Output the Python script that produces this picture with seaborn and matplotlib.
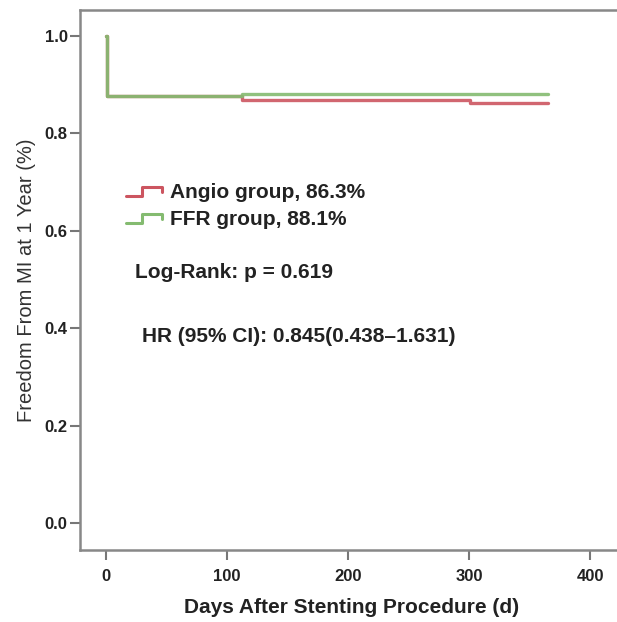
import matplotlib
matplotlib.use("Agg")
import matplotlib.pyplot as plt
import seaborn as sns
import pandas as pd
from matplotlib.legend_handler import HandlerBase
from matplotlib.lines import Line2D

# Data
angio_days = [0, 1, 112, 301, 365]
angio_surv = [1.0, 0.876, 0.869, 0.863, 0.863]
ffr_days = [0, 1, 112, 365]
ffr_surv = [1.0, 0.877, 0.881, 0.881]
group_labels = ["Angio group, 86.3%", "FFR group, 88.1%"]
x_ticks = [0, 100, 200, 300, 400]
y_ticks = [0.0, 0.2, 0.4, 0.6, 0.8, 1.0]
logrank_text = "Log-Rank: p = 0.619"
hr_text = "HR (95% CI): 0.845(0.438\u20131.631)"

red = "#cc5560"
green = "#84bb70"

sns.set_theme(style="white")
plt.rcParams["font.family"] = ["Liberation Sans", "DejaVu Sans"]

df = pd.concat([
    pd.DataFrame({"day": angio_days, "surv": angio_surv, "group": group_labels[0]}),
    pd.DataFrame({"day": ffr_days, "surv": ffr_surv, "group": group_labels[1]}),
])

fig = plt.figure(figsize=(6.17, 6.22), dpi=100)
ax = fig.add_axes([0.1297, 0.1158, 0.88, 0.868])

for lab, col in zip(group_labels, [red, green]):
    sub = df[df["group"] == lab]
    sns.lineplot(data=sub, x="day", y="surv", ax=ax, color=col, lw=2.4, alpha=0.9,
                 drawstyle="steps-post", estimator=None, sort=False, label=lab)

ax.set_xlim(-21.5, 427)
ax.set_ylim(-0.055, 1.053)
ax.set_xticks(x_ticks)
ax.set_yticks(y_ticks)
ax.set_yticklabels([f"{v:.1f}" for v in y_ticks])
for lbl in ax.get_xticklabels() + ax.get_yticklabels():
    lbl.set_fontweight("bold")
    lbl.set_fontsize(12)
    lbl.set_color("#222222")
ax.tick_params(axis="both", direction="out", length=7, width=1.5, color="#777777",
               bottom=True, left=True, pad=2)
ax.tick_params(axis="x", pad=7)

for s in ["left", "bottom", "top"]:
    ax.spines[s].set_color("#888888")
    ax.spines[s].set_linewidth(1.8)
ax.spines["right"].set_visible(False)

ax.set_xlabel("Days After Stenting Procedure (d)", fontsize=15, fontweight="bold",
              color="#222222", labelpad=10)
ax.set_ylabel("Freedom From MI at 1 Year (%)", fontsize=14.5, color="#333333",
              labelpad=6)


class StepHandler(HandlerBase):
    def create_artists(self, legend, orig_handle, xdescent, ydescent, width, height, fontsize, trans):
        x0, x1 = -xdescent, -xdescent + width
        y0, y1 = -ydescent + height * 0.15, -ydescent + height * 0.75
        xs = [x0, x0 + width * 0.45, x0 + width * 0.45, x1, x1]
        ys = [y0, y0, y1, y1, y0 + height * 0.3]
        ln = Line2D(xs, ys, color=orig_handle.get_color(), lw=2.2, transform=trans)
        return [ln]


handles, labels = ax.get_legend_handles_labels()
leg = ax.legend(handles, labels, loc="upper left", bbox_to_anchor=(0.085, 0.679),
                frameon=False, handler_map={Line2D: StepHandler()},
                handlelength=1.7, handletextpad=0.4, labelspacing=0.38,
                borderaxespad=0, borderpad=0, prop={"weight": "bold", "size": 15})
for t in leg.get_texts():
    t.set_color("#222222")

ax.text(24, 0.515, logrank_text, fontsize=15, fontweight="bold",
        color="#222222", va="center", ha="left")
ax.text(29.5, 0.384, hr_text, fontsize=15, fontweight="bold",
        color="#222222", va="center", ha="left")

fig.savefig("out.png", dpi=100)
